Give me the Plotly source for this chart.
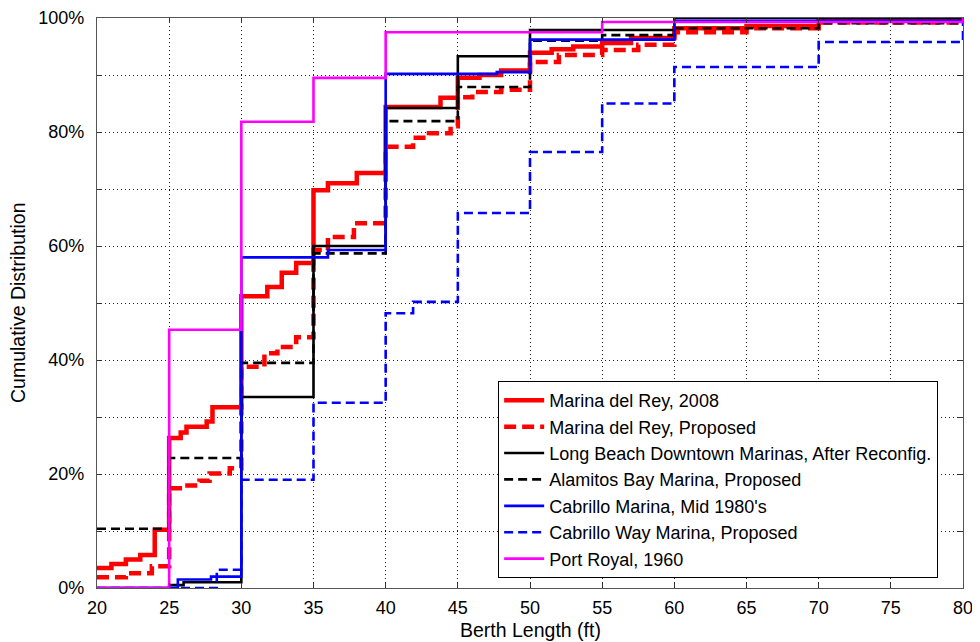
import plotly.graph_objects as go

# ---------------- data (berth length in ft, cumulative %) ----------------
mdr2008_x = [20, 21, 22, 23, 24, 25, 25.8, 26.2, 27.6, 28, 30, 31.8, 32.8, 33.8, 35, 36, 38,
             40, 43.8, 45, 46.5, 48, 50, 51.5, 53, 55, 57, 60, 65, 70, 80]
mdr2008_y = [3.5, 4.2, 5.0, 5.8, 10.2, 26.3, 27.3, 28.3, 29.2, 31.7, 51.2, 52.8, 55.3, 57.0, 69.8, 71.0, 72.8,
             84.4, 86.0, 89.5, 90.0, 90.8, 93.9, 94.5, 95.0, 95.6, 96.5, 98.2, 98.6, 99.5, 100]

mdrprop_x = [20, 22, 23.8, 25, 26, 27.1, 27.8, 29.2, 30, 31.6, 32.5, 33.8, 35, 36, 37.8,
             40, 41.9, 43, 44.5, 45, 46, 48, 50, 52, 55, 57.5, 60, 65, 70, 80]
mdrprop_y = [1.9, 2.6, 3.8, 17.5, 18.0, 18.8, 20.1, 21.0, 38.8, 41.2, 42.3, 44.0, 59.3, 61.6, 64.0,
             77.4, 79.0, 79.8, 81.0, 86.1, 87.0, 87.4, 92.3, 93.5, 94.4, 95.3, 97.5, 98.2, 99.2, 100]

lb_x = [20, 25, 26, 30, 35, 40, 45, 50, 60, 80]
lb_y = [0, 0.5, 1.0, 33.5, 60.0, 84.2, 93.3, 97.9, 100, 100]

ab_x = [20, 25, 30, 35, 40, 45, 50, 55, 60, 70, 80]
ab_y = [10.4, 22.8, 39.5, 58.7, 81.9, 87.9, 96.0, 97.0, 98.2, 99.1, 100]

cab_x = [20, 25.6, 27.9, 30, 36, 40, 47.7, 50, 60, 80]
cab_y = [0, 1.5, 2.0, 58.0, 59.3, 90.2, 90.5, 96.2, 99.5, 100]

cwy_x = [20, 28.3, 30, 35, 40, 41.9, 45, 50, 55, 60, 70, 80]
cwy_y = [0, 3.2, 19.0, 32.5, 48.2, 50.2, 65.8, 76.5, 85.0, 91.4, 95.8, 100]

pr_x = [20, 25, 30, 35, 40, 55, 80]
pr_y = [0, 45.3, 81.8, 89.5, 97.5, 99.3, 100]

x_ticks = [20, 25, 30, 35, 40, 45, 50, 55, 60, 65, 70, 75, 80]
y_ticks = [0, 10, 20, 30, 40, 50, 60, 70, 80, 90, 100]
y_labels = ["0%", "", "20%", "", "40%", "", "60%", "", "80%", "", "100%"]

series = [
    ("Marina del Rey, 2008", mdr2008_x, mdr2008_y, "#ff0000", 4.5, "solid"),
    ("Marina del Rey, Proposed", mdrprop_x, mdrprop_y, "#ff0000", 4.5, "12px,6px"),
    ("Long Beach Downtown Marinas, After Reconfig.", lb_x, lb_y, "#000000", 2.6, "solid"),
    ("Alamitos Bay Marina, Proposed", ab_x, ab_y, "#000000", 2.6, "9px,5px"),
    ("Cabrillo Marina, Mid 1980's", cab_x, cab_y, "#0000ff", 2.6, "solid"),
    ("Cabrillo Way Marina, Proposed", cwy_x, cwy_y, "#0000ff", 2.6, "9px,5px"),
    ("Port Royal, 1960", pr_x, pr_y, "#ff00ff", 2.6, "solid"),
]

FONT = "Liberation Sans, Arial, sans-serif"

fig = go.Figure()
for name, xs, ys, color, w, dash in series:
    fig.add_trace(go.Scatter(
        x=xs, y=ys, mode="lines", name=name,
        line=dict(color=color, width=w, dash=dash, shape="hv"),
    ))

axis_common = dict(
    showgrid=True, gridcolor="#222222", gridwidth=1, griddash="1px,3px",
    showline=True, linecolor="#555555", linewidth=1.2, mirror="allticks",
    ticks="inside", ticklen=5, tickcolor="#333333",
    zeroline=False, automargin=False,
)

# page body has an 8px default margin, so the figure is placed at (8, 8)
fig.update_layout(
    width=972, height=634,
    margin=dict(l=89, r=17, t=10, b=54, autoexpand=False),
    paper_bgcolor="white", plot_bgcolor="white",
    font=dict(family=FONT, size=18, color="black"),
    showlegend=True,
    legend=dict(
        x=0.9713, y=0.0175, xanchor="right", yanchor="bottom",
        bgcolor="white", bordercolor="black", borderwidth=1,
        font=dict(family=FONT, size=18, color="black"),
        tracegroupgap=0, itemwidth=40,
    ),
    xaxis=dict(range=[20, 80], tickvals=x_ticks, ticktext=[str(v) for v in x_ticks],
               ticklabelstandoff=3, **axis_common),
    yaxis=dict(range=[0, 100], tickvals=y_ticks, ticktext=y_labels,
               ticklabelstandoff=8, **axis_common),
    annotations=[
        dict(text="Berth Length (ft)", xref="paper", yref="paper", x=0.5, y=-0.0737,
             xanchor="center", yanchor="middle", showarrow=False,
             font=dict(family=FONT, size=19.5, color="black")),
        dict(text="Cumulative Distribution", xref="paper", yref="paper", x=-0.0912, y=0.5,
             xanchor="center", yanchor="middle", textangle=-90, showarrow=False,
             font=dict(family=FONT, size=19.5, color="black")),
    ],
)

fig.write_html("out.html")
